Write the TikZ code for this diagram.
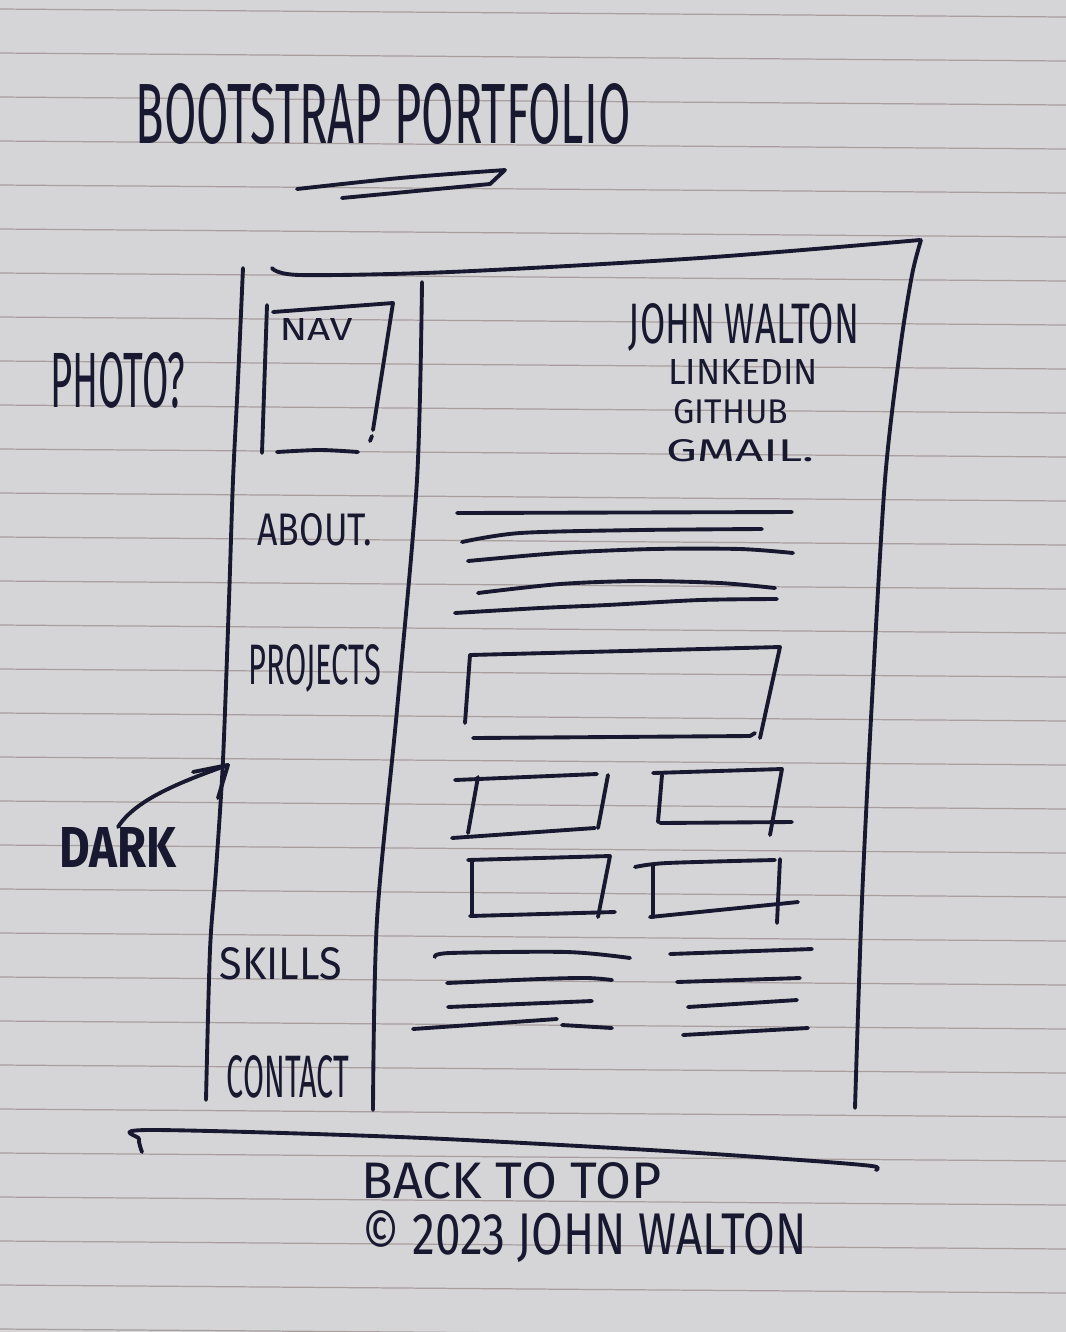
\documentclass[tikz,border=0pt]{standalone}
\usepackage{fontspec}
\setmainfont{Fira Sans}
\usepackage{graphicx}
\newdimen\pxu \pxu=0.01cm
% squeeze a handwritten-style label into a w x h box (in 0.01cm units)
\newcommand{\penfit}[3]{\resizebox{#1\pxu}{#2\pxu}{#3}}
\definecolor{paper}{RGB}{213,213,215}
\definecolor{ink}{RGB}{24,24,48}
\definecolor{rulecol}{RGB}{168,158,158}

\begin{document}
\begin{tikzpicture}[x=0.01cm, y=-0.01cm,
  ink/.style={draw=ink, line width=1.1pt, line cap=round, line join=round},
  ruling/.style={draw=rulecol, line width=0.35pt},
  hand/.style={text=ink, inner sep=0pt, outer sep=0pt, anchor=center}]

% sheet of ruled paper
\fill[paper] (0,0) rectangle (1066,1332);
\useasboundingbox (0,0) rectangle (1066,1332);
\foreach \k in {-2,...,28} \draw[ruling] (0,{97+44*\k}) -- (1066,{105+44*\k});

% heading
\node[hand] (title) at (383,114) {\penfit{495}{60}{BOOTSTRAP PORTFOLIO}};
\draw[ink] plot[smooth, tension=0.5] coordinates {(297,189) (400,178) (505,170)} -- (490,184) -- (342,198);

% page outline
\draw[ink] plot[smooth, tension=0.5] coordinates {(272,268) (300,275) (450,272) (700,258) (920,240)};
\draw[ink] plot[smooth, tension=0.5] coordinates {(921,240) (912,275) (900,350) (885,480) (872,700) (862,900) (855,1108)};
\draw[ink] plot[smooth, tension=0.5] coordinates {(243,268) (238,380) (233,480) (229,600) (223,760) (216,870) (210,950) (206,1100)};
\draw[ink] plot[smooth, tension=0.5] coordinates {(422,282) (417,480) (397,710) (377,920) (373,1110)};
\draw[ink] plot[smooth, tension=0.5] coordinates {(142,1152) (139,1139) (148,1130) (400,1137) (650,1150) (800,1160) (872,1166) (876,1170)};

% nav box
\draw[ink] (267,305) -- (262,453);
\draw[ink] (273,312) -- (393,303) -- (373,430);
\draw[ink] (372,436) -- (370,441);
\draw[ink] plot[smooth] coordinates {(277,452) (320,450) (358,452)};
\node[hand] (nav) at (316,329) {\penfit{73}{22}{NAV}};

% left column labels
\node[hand] (photo) at (118,380) {\penfit{135}{55}{PHOTO?}};
\node[hand] (about) at (315,530) {\penfit{115}{32}{ABOUT.}};
\node[hand] (projects) at (315,668) {\penfit{132}{40}{PROJECTS}};
\node[hand] (skills) at (281,964) {\penfit{122}{32}{SKILLS}};
\node[hand] (contact) at (288,1077) {\penfit{122}{42}{CONTACT}};
\node[hand] (dark) at (118,847) {\penfit{117}{40}{\bfseries DARK}};

% arrow from the dark-mode note to the page edge
\coordinate (darktip) at (228,765);
\draw[ink] (dark.north) .. controls (135,800) and (180,782) .. (darktip);
\draw[ink] (darktip) -- ++(-35,7);
\draw[ink] (darktip) -- ++(-10,33);

% header contact block
\node[hand] (name) at (744,327) {\penfit{230}{40}{JOHN WALTON}};
\node[hand] (linkedin) at (743,372) {\penfit{150}{25}{LINKEDIN}};
\node[hand] (github) at (731,412) {\penfit{115}{24}{GITHUB}};
\node[hand] (gmail) at (740,451) {\penfit{148}{22}{GMAIL.}};

% about text lines
\draw[ink] (457,513) -- (792,512);
\draw[ink] plot[smooth] coordinates {(462,542) (520,533) (640,530) (762,529)};
\draw[ink] plot[smooth] coordinates {(468,561) (560,553) (653,549) (740,549) (793,553)};
\draw[ink] plot[smooth] coordinates {(478,593) (560,584) (640,581) (720,583) (775,588)};
\draw[ink] plot[smooth] coordinates {(455,613) (540,608) (607,605) (700,600) (777,599)};

% project cards
\draw[ink] (470,655) -- (465,723);
\draw[ink] (470,655) -- (780,647) -- (760,738);
\draw[ink] (473,738) -- (750,736) -- (755,733);

\draw[ink] (455,780) -- (597,774);
\draw[ink] (478,777) -- (468,833);
\draw[ink] (608,775) -- (598,828);
\draw[ink] (452,838) -- (595,828);

\draw[ink] (653,773) -- (782,769) -- (770,835);
\draw[ink] (662,775) -- (658,822);
\draw[ink] (660,823) -- (792,822);

\draw[ink] (468,860) -- (610,856) -- (598,917);
\draw[ink] (472,860) -- (472,915);
\draw[ink] (470,916) -- (615,912);

\draw[ink] plot[smooth] coordinates {(635,867) (667,863) (775,860)};
\draw[ink] (653,865) -- (653,917);
\draw[ink] (780,859) -- (777,923);
\draw[ink] (650,917) -- (798,902);

% skills lists
\draw[ink] plot[smooth] coordinates {(435,957) (450,953) (567,952) (630,958)};
\draw[ink] plot[smooth] coordinates {(447,983) (540,979) (587,978) (612,980)};
\draw[ink] (448,1007) -- (592,1001);
\draw[ink] (413,1029) -- (557,1019);
\draw[ink] (562,1025) -- (612,1028);

\draw[ink] (670,954) -- (812,949);
\draw[ink] (677,982) -- (800,978);
\draw[ink] (688,1007) -- (797,1000);
\draw[ink] (683,1035) -- (808,1028);

% footer
\node[hand] (backtop) at (512,1181) {\penfit{300}{36}{BACK TO TOP}};
\node[hand] (copyright) at (585,1237) {\penfit{444}{44}{© 2023 JOHN WALTON}};

\end{tikzpicture}
\end{document}
